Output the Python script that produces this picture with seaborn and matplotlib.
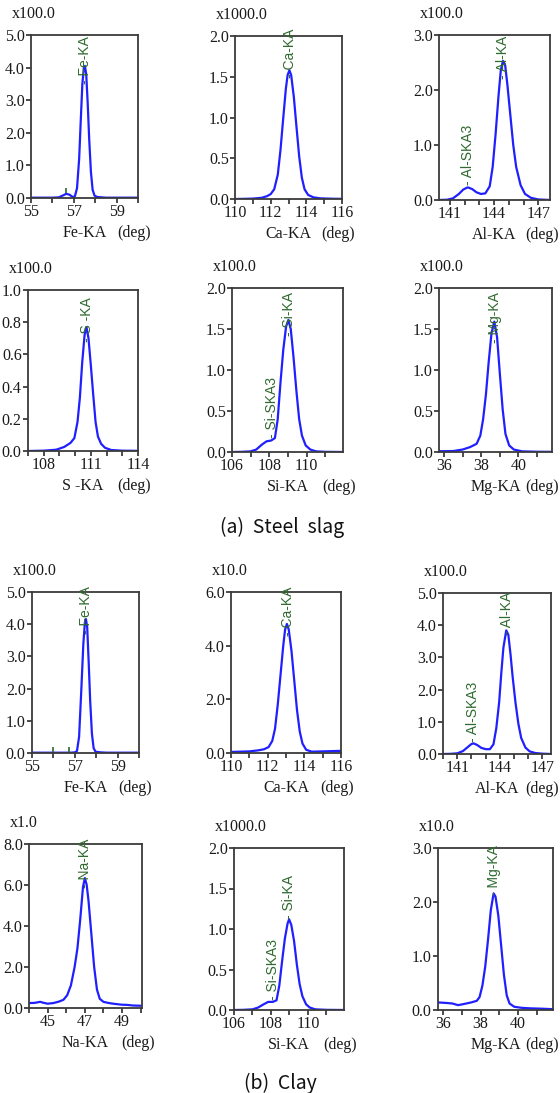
import matplotlib
matplotlib.use("Agg")
import matplotlib.pyplot as plt
import seaborn as sns
import pandas as pd
from matplotlib.ticker import FixedLocator, MultipleLocator, FormatStrFormatter

# ---------------- data ----------------
# (a) Steel slag
fe_slag_x = [55.0, 55.5, 56.0, 56.3, 56.5, 56.65, 56.8, 56.95, 57.05, 57.15, 57.25, 57.32, 57.40,
             57.47, 57.52, 57.58, 57.65, 57.72, 57.80, 57.88, 57.97, 58.1, 58.3, 58.5, 59.0, 60.0]
fe_slag_y = [0.01, 0.01, 0.01, 0.02, 0.08, 0.13, 0.10, 0.03, 0.05, 0.3, 1.2, 2.3, 3.5,
             4.0, 4.05, 3.8, 2.9, 1.8, 0.8, 0.25, 0.07, 0.03, 0.02, 0.01, 0.01, 0.01]

ca_slag_x = [110.0, 110.5, 111.0, 111.5, 111.8, 112.0, 112.2, 112.4, 112.55, 112.7, 112.85, 112.95,
             113.05, 113.15, 113.3, 113.45, 113.6, 113.75, 113.9, 114.1, 114.4, 114.8, 115.5, 116.0]
ca_slag_y = [0.0, 0.002, 0.005, 0.015, 0.035, 0.06, 0.12, 0.30, 0.60, 0.98, 1.35, 1.52,
             1.58, 1.52, 1.25, 0.88, 0.52, 0.26, 0.12, 0.05, 0.02, 0.008, 0.003, 0.002]

al_slag_x = [140.2, 140.8, 141.2, 141.6, 141.9, 142.2, 142.5, 142.8, 143.1, 143.4, 143.7, 143.9, 144.1,
             144.3, 144.45, 144.6, 144.75, 144.9, 145.1, 145.3, 145.5, 145.8, 146.1, 146.5, 147.0, 147.8]
al_slag_y = [0.0, 0.005, 0.03, 0.11, 0.19, 0.23, 0.20, 0.14, 0.11, 0.12, 0.25, 0.6, 1.2,
             1.9, 2.35, 2.53, 2.45, 2.1, 1.55, 1.0, 0.6, 0.27, 0.11, 0.04, 0.01, 0.0]

s_slag_x = [107.0, 108.0, 108.8, 109.3, 109.7, 109.95, 110.15, 110.3, 110.45, 110.6, 110.72, 110.85,
            111.0, 111.15, 111.3, 111.45, 111.65, 111.9, 112.3, 113.0, 114.0]
s_slag_y = [0.0, 0.002, 0.008, 0.025, 0.05, 0.08, 0.18, 0.33, 0.55, 0.72, 0.77, 0.70,
            0.53, 0.35, 0.18, 0.09, 0.045, 0.02, 0.006, 0.002, 0.001]

si_slag_x = [106.0, 106.5, 107.0, 107.3, 107.6, 107.85, 108.1, 108.3, 108.45, 108.6, 108.75, 108.9,
             109.02, 109.15, 109.3, 109.45, 109.6, 109.75, 109.95, 110.2, 110.5, 111.0, 112.0]
si_slag_y = [0.0, 0.002, 0.008, 0.03, 0.09, 0.13, 0.14, 0.17, 0.40, 0.85, 1.25, 1.53,
             1.61, 1.50, 1.15, 0.75, 0.40, 0.20, 0.08, 0.03, 0.008, 0.002, 0.0]

mg_slag_x = [35.73, 36.0, 36.5, 37.0, 37.4, 37.75, 37.95, 38.1, 38.25, 38.4, 38.55, 38.7, 38.85,
             39.0, 39.15, 39.3, 39.5, 39.75, 40.2, 41.0, 41.8]
mg_slag_y = [0.01, 0.01, 0.012, 0.03, 0.06, 0.10, 0.20, 0.40, 0.70, 1.10, 1.45, 1.59, 1.40,
             0.95, 0.52, 0.22, 0.08, 0.03, 0.008, 0.003, 0.002]

# (b) Clay
fe_clay_x = [55.0, 56.0, 56.8, 57.0, 57.1, 57.2, 57.3, 57.4, 57.47, 57.52, 57.58, 57.65, 57.72,
             57.8, 57.88, 57.97, 58.2, 58.5, 59.0, 60.0]
fe_clay_y = [0.01, 0.01, 0.01, 0.02, 0.06, 0.5, 1.9, 3.4, 4.05, 4.16, 3.9, 2.8, 1.6,
             0.6, 0.15, 0.04, 0.02, 0.01, 0.01, 0.01]

ca_clay_x = [110.0, 110.5, 111.0, 111.5, 111.8, 112.05, 112.25, 112.4, 112.55, 112.7, 112.85, 112.95,
             113.05, 113.15, 113.3, 113.45, 113.6, 113.75, 113.9, 114.1, 114.4, 115.0, 115.5, 116.0]
ca_clay_y = [0.04, 0.05, 0.06, 0.10, 0.14, 0.22, 0.45, 0.9, 1.8, 2.9, 4.0, 4.6,
             4.81, 4.6, 3.8, 2.7, 1.6, 0.8, 0.35, 0.12, 0.05, 0.06, 0.07, 0.08]

al_clay_x = [140.0, 140.5, 141.0, 141.4, 141.7, 142.0, 142.15, 142.4, 142.7, 143.0, 143.3, 143.55, 143.75,
             143.95, 144.1, 144.25, 144.45, 144.6, 144.75, 144.9, 145.1, 145.3, 145.5, 145.8, 146.1,
             146.5, 147.0, 147.6]
al_clay_y = [0.0, 0.005, 0.02, 0.09, 0.2, 0.31, 0.33, 0.28, 0.19, 0.15, 0.15, 0.3, 0.8,
             1.6, 2.5, 3.3, 3.84, 3.7, 3.1, 2.4, 1.6, 0.95, 0.5, 0.2, 0.08,
             0.03, 0.01, 0.0]

na_clay_x = [44.0, 44.3, 44.6, 44.8, 45.0, 45.3, 45.6, 45.85, 46.05, 46.25, 46.45, 46.6, 46.75, 46.9,
             47.0, 47.1, 47.2, 47.35, 47.5, 47.65, 47.8, 48.0, 48.3, 48.6, 49.0, 49.3, 49.6, 50.0]
na_clay_y = [0.24, 0.25, 0.30, 0.25, 0.21, 0.24, 0.31, 0.40, 0.62, 1.1, 2.0, 2.9, 4.3, 5.9,
             6.34, 6.0, 5.2, 3.6, 2.0, 0.9, 0.45, 0.30, 0.24, 0.20, 0.16, 0.15, 0.12, 0.11]

si_clay_x = [106.0, 106.5, 107.0, 107.3, 107.6, 107.85, 108.1, 108.3, 108.45, 108.6, 108.75, 108.9,
             108.98, 109.1, 109.25, 109.4, 109.55, 109.7, 109.9, 110.1, 110.4, 111.0, 112.0]
si_clay_y = [0.0, 0.002, 0.008, 0.03, 0.07, 0.10, 0.10, 0.12, 0.3, 0.6, 0.88, 1.07,
             1.12, 1.05, 0.85, 0.56, 0.32, 0.17, 0.07, 0.03, 0.008, 0.002, 0.0]

mg_clay_x = [35.73, 36.2, 36.5, 36.8, 37.1, 37.5, 37.8, 37.95, 38.1, 38.25, 38.4, 38.55, 38.7, 38.8,
             38.95, 39.1, 39.25, 39.4, 39.55, 39.8, 40.2, 40.7, 41.2, 41.87]
mg_clay_y = [0.14, 0.13, 0.12, 0.09, 0.11, 0.14, 0.17, 0.24, 0.45, 0.8, 1.3, 1.85, 2.16, 2.1,
             1.75, 1.2, 0.65, 0.27, 0.12, 0.06, 0.04, 0.03, 0.025, 0.015]

# axis names, multipliers, limits and tick values
axis_names = ["Fe-KA", "Ca-KA", "Al-KA", "S -KA", "Si-KA", "Mg-KA",
              "Fe-KA", "Ca-KA", "Al-KA", "Na-KA", "Si-KA", "Mg-KA"]
multipliers = ["x100.0", "x1000.0", "x100.0", "x100.0", "x100.0", "x100.0",
               "x100.0", "x10.0", "x100.0", "x1.0", "x1000.0", "x10.0"]
x_limits = [(55, 60), (110, 116), (140.25, 147.8), (107, 114), (106, 111.95), (35.73, 41.8),
            (55, 60), (110, 116), (140.0, 147.6), (44, 50.07), (106, 111.95), (35.73, 41.87)]
x_major = [[55, 57, 59], [110, 112, 114, 116], [141, 144, 147], [108, 111, 114], [106, 108, 110], [36, 38, 40],
           [55, 57, 59], [110, 112, 114, 116], [141, 144, 147], [45, 47, 49], [106, 108, 110], [36, 38, 40]]
y_top = [5.0, 2.0, 3.0, 1.0, 2.0, 2.0, 5.0, 6.0, 5.0, 8.0, 2.0, 3.0]
y_step = [1.0, 0.5, 1.0, 0.2, 0.5, 0.5, 1.0, 2.0, 1.0, 2.0, 0.5, 1.0]

# peak identification labels: panel index, position, height, text
peak_panel = [0, 1, 2, 2, 3, 4, 4, 5, 6, 7, 8, 8, 9, 10, 10, 11]
peak_x = [57.5, 113.08, 142.22, 144.62, 110.74, 108.12, 109.06, 38.72,
          57.52, 113.1, 142.12, 144.48, 47.02, 108.12, 109.0, 38.74]
peak_y = [3.5, 1.48, 0.28, 2.2, 0.68, 0.17, 1.42, 1.33,
          3.7, 4.35, 0.38, 3.7, 5.85, 0.12, 1.12, 2.12]
peak_text = ["Fe-KA", "Ca-KA", "Al-SKA3", "Al-KA", "S -KA", "Si-SKA3", "Si-KA", "Mg-KA",
             "Fe-KA", "Ca-KA", "Al-SKA3", "Al-KA", "Na-KA", "Si-SKA3", "Si-KA", "Mg-KA"]

# unlabeled line markers: panel index, position, low, high
mark_panel = [0, 6, 6]
mark_x = [56.65, 55.98, 56.72]
mark_lo = [0.14, 0.01, 0.01]
mark_hi = [0.32, 0.2, 0.2]

series_x = [fe_slag_x, ca_slag_x, al_slag_x, s_slag_x, si_slag_x, mg_slag_x,
            fe_clay_x, ca_clay_x, al_clay_x, na_clay_x, si_clay_x, mg_clay_x]
series_y = [fe_slag_y, ca_slag_y, al_slag_y, s_slag_y, si_slag_y, mg_slag_y,
            fe_clay_y, ca_clay_y, al_clay_y, na_clay_y, si_clay_y, mg_clay_y]

captions = ["(a)  Steel  slag", "(b)  Clay"]

# ---------------- layout (pixel boxes: left, right, top, bottom) ----------------
W, H = 560, 1093
boxes = [(31, 138, 35, 198), (235, 342, 36, 199), (439, 550, 35, 200),
         (28, 138, 290, 451), (232, 343, 288, 452), (439, 552, 288, 452),
         (32, 139, 592, 753), (231, 341, 592, 753), (443, 551, 593, 754),
         (29, 142, 844, 1008), (234, 344, 848, 1010), (438, 553, 848, 1010)]
caption_pos = [(282, 527), (280, 1083)]

sns.set_theme(style="ticks")
plt.rcParams["font.family"] = ["Liberation Serif", "DejaVu Serif"]
plt.rcParams["axes.edgecolor"] = "#3a3a3a"
plt.rcParams["axes.linewidth"] = 1.3

fig = plt.figure(figsize=(W / 100, H / 100), dpi=100)
line_color = "#2020ff"
green = "#2f6a2f"
txt = "#1a1a1a"
fs = 11.5

for i in range(12):
    l, r, t, b = boxes[i]
    ax = fig.add_axes([l / W, 1 - b / H, (r - l) / W, (b - t) / H])
    df = pd.DataFrame({"x": series_x[i], "y": series_y[i]})
    sns.lineplot(data=df, x="x", y="y", ax=ax, color=line_color, linewidth=1.6, sort=False)
    ax.set_xlim(*x_limits[i])
    ax.set_ylim(0, y_top[i])
    ax.xaxis.set_major_locator(FixedLocator(x_major[i]))
    ax.xaxis.set_minor_locator(MultipleLocator(1))
    ax.yaxis.set_major_locator(MultipleLocator(y_step[i]))
    ax.yaxis.set_major_formatter(FormatStrFormatter("%.1f"))
    ax.xaxis.set_major_formatter(FormatStrFormatter("%d"))
    ax.tick_params(axis="both", which="major", direction="out", length=3.5, width=1.1,
                   labelsize=fs, pad=1.0, colors=txt)
    ax.tick_params(axis="x", which="minor", direction="out", length=3.5, width=1.1, color=txt)
    ax.set_xlabel("")
    ax.set_ylabel("")
    for s in ax.spines.values():
        s.set_visible(True)
    ax.annotate(multipliers[i], xy=(0, 1), xycoords="axes fraction", xytext=(-14, 15),
                textcoords="offset points", ha="left", va="center", fontsize=fs, color=txt)
    ax.annotate(axis_names[i], xy=(0.5, 0), xycoords="axes fraction", xytext=(0, -25),
                textcoords="offset points", ha="center", va="center", fontsize=fs, color=txt)
    # "(deg)" unit label near the right end of the axis, kept inside the figure
    deg_right = min(r + 13, W - 1)
    fig.text(deg_right / W, 1 - (b + 35) / H, "(deg)", ha="right", va="center",
             fontsize=fs, color=txt)

    for k in range(len(peak_panel)):
        if peak_panel[k] == i:
            ax.text(peak_x[k], peak_y[k], "- " + peak_text[k], rotation=90, ha="center", va="bottom",
                    color=green, fontsize=10, family=["Liberation Sans", "DejaVu Sans"])
    for k in range(len(mark_panel)):
        if mark_panel[k] == i:
            ax.vlines(mark_x[k], mark_lo[k], mark_hi[k], color=green, linewidth=1.2)

for cap, (cx, cy) in zip(captions, caption_pos):
    fig.text(cx / W, 1 - cy / H, cap, ha="center", va="center", fontsize=14,
             family=["Noto Sans CJK KR", "DejaVu Sans"], color="#111111")

fig.savefig("out.png", dpi=100)
